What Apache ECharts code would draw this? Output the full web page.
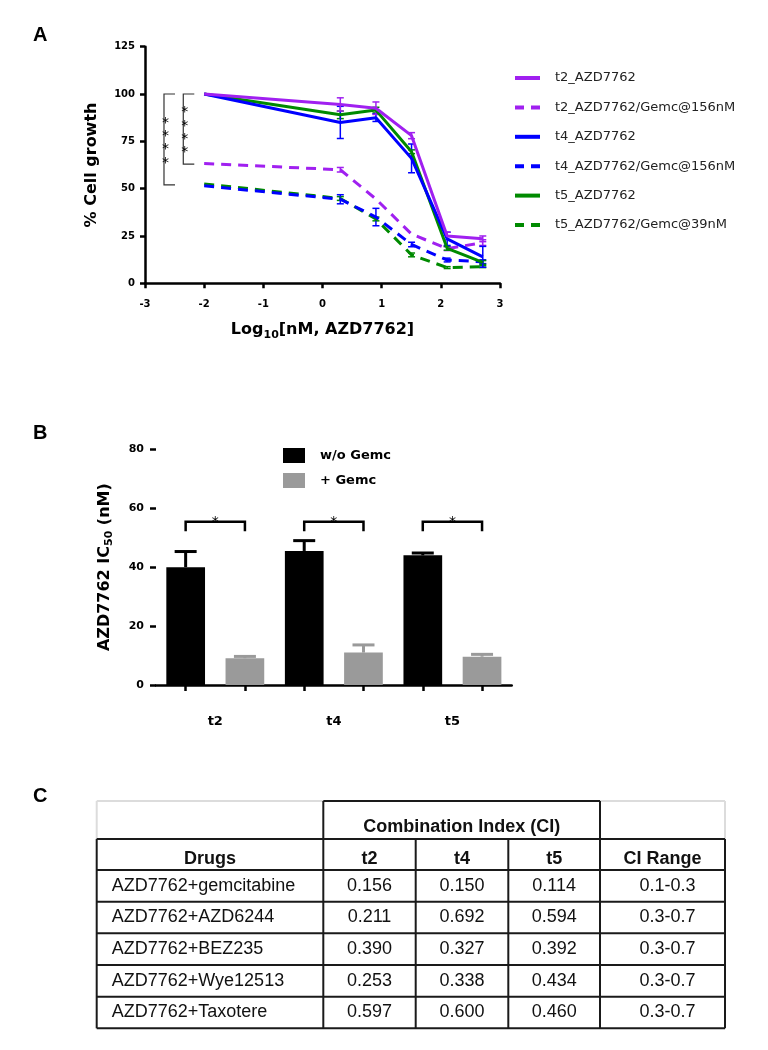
<!DOCTYPE html>
<html>
<head>
<meta charset="utf-8">
<title>AZD7762 figure</title>
<script src="https://cdn.jsdelivr.net/npm/echarts@6.0.0/dist/echarts.min.js"></script>
<style>
  html, body { margin: 0; padding: 0; background: #fff; }
  #fig { width: 768px; height: 1050px; }
</style>
</head>
<body>
<div id="fig"></div>
<script>
// ---------- panel A : growth vs log10 dose ----------
var logDose = [-2, 0.301, 0.903, 1.505, 2.107, 2.709];
var xTicksA = [-3, -2, -1, 0, 1, 2, 3];
var yTicksA = [0, 25, 50, 75, 100, 125];

var t2Alone = [100, 94.5, 92.5, 78, 25, 23.5];
var t2AloneErr = [0, 3.5, 3.3, 1.6, 2, 1.5];
var t2Gemc = [63.3, 60, 44.5, 26, 18.3, 21.5];
var t2GemcErr = [0, 1.2, 0, 0, 1, 1.5];
var t4Alone = [100, 85, 87.5, 66, 23.5, 14];
var t4AloneErr = [0, 8.5, 2, 7.6, 3.5, 5.5];
var t4Gemc = [51.5, 44.4, 35, 20.5, 12.3, 11.4];
var t4GemcErr = [0, 2.4, 4.6, 1.2, 1, 1];
var t5Alone = [100, 89, 91.5, 69.5, 18.5, 11];
var t5AloneErr = [0, 2, 1.5, 1, 1, 1];
var t5Gemc = [52.5, 44.8, 34, 15, 8.3, 8.8];
var t5GemcErr = [0, 1, 1, 1, 0.5, 0.5];

// significance brackets in A: [x, x end, top, bottom, stars]
var sigA = [
  [-2.679, -2.493, 100, 52, 4],
  [-2.353, -2.167, 100, 63, 4]
];

// ---------- panel B : IC50 bars ----------
var cellLines = ['t2', 't4', 't5'];
var ic50Alone = [40, 45.5, 44];
var ic50AloneErr = [5.3, 3.5, 0.8];
var ic50Gemc = [9.1, 11, 9.6];
var ic50GemcErr = [0.6, 2.6, 0.8];
var yTicksB = [0, 20, 40, 60, 80];
// bracket height / foot for each cell line
var sigB = [[0, 55.4, 52.2], [1, 55.4, 52.2], [2, 55.4, 52.2]];

// ---------- panel C : combination index table ----------
var drugs = ['AZD7762+gemcitabine', 'AZD7762+AZD6244', 'AZD7762+BEZ235', 'AZD7762+Wye12513', 'AZD7762+Taxotere'];
var ciT2 = ['0.156', '0.211', '0.390', '0.253', '0.597'];
var ciT4 = ['0.150', '0.692', '0.327', '0.338', '0.600'];
var ciT5 = ['0.114', '0.594', '0.392', '0.434', '0.460'];
var ciRange = ['0.1-0.3', '0.3-0.7', '0.3-0.7', '0.3-0.7', '0.3-0.7'];
var tableHead = ['Drugs', 't2', 't4', 't5', 'CI Range'];
var groupHead = 'Combination Index (CI)';

var PURPLE = '#a020f0', BLUE = '#0000ff', GREEN = '#008a00';
var AXFONT = 'DejaVu Sans';
var DASH = [10, 7];

function lineSeries(name, data, color, dashed) {
  return {
    name: name,
    type: 'line',
    xAxisIndex: 0, yAxisIndex: 0,
    data: logDose.map(function (x, i) { return [x, data[i]]; }),
    showSymbol: false, symbol: 'none',
    lineStyle: { color: color, width: 3, type: dashed ? DASH : 'solid' },
    itemStyle: { color: color }
  };
}

// vertical error bars with caps (panel A)
function errSeriesA(data, errs, color) {
  return {
    type: 'custom',
    xAxisIndex: 0, yAxisIndex: 0,
    encode: { x: 0, y: 1 },
    data: logDose.map(function (x, i) { return [x, data[i], errs[i]]; }),
    renderItem: function (params, api) {
      var x = api.value(0), y = api.value(1), e = api.value(2);
      if (!e) return { type: 'group', children: [] };
      var hi = api.coord([x, y + e]), lo = api.coord([x, y - e]);
      var st = { stroke: color, lineWidth: 1.5 };
      return {
        type: 'group',
        children: [
          { type: 'line', shape: { x1: hi[0], y1: hi[1], x2: lo[0], y2: lo[1] }, style: st },
          { type: 'line', shape: { x1: hi[0] - 3.5, y1: hi[1], x2: hi[0] + 3.5, y2: hi[1] }, style: st },
          { type: 'line', shape: { x1: lo[0] - 3.5, y1: lo[1], x2: lo[0] + 3.5, y2: lo[1] }, style: st }
        ]
      };
    },
    z: 3
  };
}

// upward error bars on grouped bars (panel B); side -1 = left bar, +1 = right bar
function errSeriesB(vals, errs, side, color) {
  return {
    type: 'custom',
    xAxisIndex: 1, yAxisIndex: 1,
    encode: { x: 0, y: 1 },
    data: vals.map(function (v, i) { return [i, v, errs[i]]; }),
    renderItem: function (params, api) {
      var base = api.coord([api.value(0), api.value(1)]);
      var top = api.coord([api.value(0), api.value(1) + api.value(2)]);
      var band = api.size([1, 0])[0];
      var cx = base[0] + side * band / 4;
      var st = { stroke: color, lineWidth: 3 };
      return {
        type: 'group',
        children: [
          { type: 'line', shape: { x1: cx, y1: base[1], x2: cx, y2: top[1] }, style: st },
          { type: 'line', shape: { x1: cx - 11, y1: top[1], x2: cx + 11, y2: top[1] }, style: st }
        ]
      };
    },
    z: 3
  };
}

var fig = echarts.init(document.getElementById('fig'));

// ---- table C built from the arrays ----
function buildTable() {
  var colX = [96.7, 323.3, 415.7, 508.3, 600, 725];
  var rowY = [801, 839, 870, 901.7, 933.3, 965, 996.7, 1028.3];
  var els = [];
  var black = { stroke: '#1a1a1a', lineWidth: 2 };
  var light = { stroke: '#dcdcdc', lineWidth: 2 };
  function seg(x1, y1, x2, y2, st) {
    els.push({ type: 'line', shape: { x1: x1, y1: y1, x2: x2, y2: y2 }, style: st, silent: true });
  }
  function txt(s, x, y, align, bold) {
    els.push({
      type: 'text', x: x, y: y, silent: true,
      style: {
        text: s, align: align, verticalAlign: 'middle', fill: '#111',
        fontFamily: 'Liberation Sans', fontSize: 18, fontWeight: bold ? 'bold' : 'normal'
      }
    });
  }
  // light border on the empty header cells
  seg(colX[0], rowY[0], colX[1], rowY[0], light);
  seg(colX[0], rowY[0], colX[0], rowY[1], light);
  seg(colX[4], rowY[0], colX[5], rowY[0], light);
  seg(colX[5], rowY[0], colX[5], rowY[1], light);
  // combination index box
  seg(colX[1], rowY[0], colX[4], rowY[0], black);
  seg(colX[1], rowY[0], colX[1], rowY[1], black);
  seg(colX[4], rowY[0], colX[4], rowY[1], black);
  for (var r = 1; r < rowY.length; r++) seg(colX[0], rowY[r], colX[5], rowY[r], black);
  for (var c = 0; c < colX.length; c++) seg(colX[c], rowY[1], colX[c], rowY[rowY.length - 1], black);

  txt(groupHead, (colX[1] + colX[4]) / 2, 827, 'center', true);
  tableHead.forEach(function (h, i) {
    txt(h, (colX[i] + colX[i + 1]) / 2, 859, 'center', true);
  });
  drugs.forEach(function (d, i) {
    var cy = (rowY[i + 2] + rowY[i + 3]) / 2;
    txt(d, colX[0] + 15, cy, 'left', false);
    txt(ciT2[i], (colX[1] + colX[2]) / 2, cy, 'center', false);
    txt(ciT4[i], (colX[2] + colX[3]) / 2, cy, 'center', false);
    txt(ciT5[i], (colX[3] + colX[4]) / 2, cy, 'center', false);
    txt(ciRange[i], (colX[4] + colX[5]) / 2 + 5, cy, 'center', false);
  });
  return els;
}

function panelLetter(s, x, y) {
  return {
    type: 'text', x: x, y: y,
    style: { text: s, fontFamily: 'Liberation Sans', fontWeight: 'bold', fontSize: 20, fill: '#000' }
  };
}

var axisLineSt = { onZero: false, lineStyle: { color: '#000', width: 2.5 } };
var tickSt = { show: true, length: 5, inside: false, lineStyle: { color: '#000', width: 2.5 } };

var legendNamesA = ['t2_AZD7762', 't2_AZD7762/Gemc@156nM', 't4_AZD7762', 't4_AZD7762/Gemc@156nM', 't5_AZD7762', 't5_AZD7762/Gemc@39nM'];

var option = {
  animation: false,
  backgroundColor: '#fff',
  grid: [
    { left: 145, top: 46.7, width: 355, height: 236.6 },
    { left: 156, top: 449.3, width: 355.7, height: 235.7 }
  ],
  legend: [
    {
      data: legendNamesA.map(function (n) {
        return { name: n, lineStyle: { type: n.indexOf('Gemc') > 0 ? [9, 7] : 'solid', width: 4 } };
      }),
      orient: 'vertical', left: 513, top: 71.5, padding: 0,
      itemWidth: 25, itemHeight: 10, itemGap: 16.4,
      itemStyle: { opacity: 0 },
      textStyle: { fontFamily: AXFONT, fontSize: 13, color: '#222', padding: [0, 0, 0, 10] }
    },
    {
      data: ['w/o Gemc', '+ Gemc'],
      orient: 'vertical', left: 283, top: 448, padding: 0,
      itemWidth: 22, itemHeight: 15, itemGap: 10, icon: 'rect',
      textStyle: { fontFamily: AXFONT, fontSize: 13, fontWeight: 'bold', color: '#000', padding: [0, 0, 0, 10] }
    }
  ],
  xAxis: [
    {
      gridIndex: 0, type: 'value',
      min: xTicksA[0], max: xTicksA[xTicksA.length - 1], interval: 1,
      axisLine: axisLineSt, axisTick: tickSt, splitLine: { show: false },
      axisLabel: { fontFamily: AXFONT, fontWeight: 'bold', fontSize: 10, color: '#000', margin: 16 },
      name: 'Log{s|10}[nM, AZD7762]', nameLocation: 'middle', nameGap: 36,
      nameTextStyle: {
        fontFamily: AXFONT, fontWeight: 'bold', fontSize: 16, color: '#000',
        rich: { s: { fontFamily: AXFONT, fontWeight: 'bold', fontSize: 11, padding: [10, 0, 0, 0] } }
      }
    },
    {
      gridIndex: 1, type: 'category', data: cellLines, position: 'bottom',
      axisLine: axisLineSt, axisTick: { show: false },
      axisLabel: { fontFamily: AXFONT, fontWeight: 'bold', fontSize: 13, color: '#000', margin: 30 }
    },
    {
      // tick-only axis: one tick under every bar
      gridIndex: 1, type: 'category', position: 'bottom',
      data: ['', '', '', '', '', ''],
      axisLine: { show: false, onZero: false },
      axisTick: { show: true, alignWithLabel: true, length: 6, lineStyle: { color: '#000', width: 2.5 } },
      axisLabel: { show: false }
    }
  ],
  yAxis: [
    {
      gridIndex: 0, type: 'value',
      min: yTicksA[0], max: yTicksA[yTicksA.length - 1], interval: 25,
      axisLine: axisLineSt, axisTick: tickSt, splitLine: { show: false },
      axisLabel: { fontFamily: AXFONT, fontWeight: 'bold', fontSize: 10, color: '#000', margin: 10 },
      name: '% Cell growth', nameLocation: 'middle', nameRotate: 90, nameGap: 45,
      nameTextStyle: { fontFamily: AXFONT, fontWeight: 'bold', fontSize: 16, color: '#000' }
    },
    {
      gridIndex: 1, type: 'value',
      min: yTicksB[0], max: yTicksB[yTicksB.length - 1], interval: 20,
      axisLine: axisLineSt, axisTick: { show: true, length: 6, lineStyle: { color: '#000', width: 2.5 } },
      splitLine: { show: false },
      axisLabel: { fontFamily: AXFONT, fontWeight: 'bold', fontSize: 11, color: '#000', margin: 12 },
      name: 'AZD7762 IC{s|50} (nM)', nameLocation: 'middle', nameRotate: 90, nameGap: 41,
      nameTextStyle: {
        fontFamily: AXFONT, fontWeight: 'bold', fontSize: 16, color: '#000',
        rich: { s: { fontFamily: AXFONT, fontWeight: 'bold', fontSize: 11, padding: [9, 0, 0, 0] } }
      }
    }
  ],
  series: [
    lineSeries('t5_AZD7762/Gemc@39nM', t5Gemc, GREEN, true),
    lineSeries('t4_AZD7762/Gemc@156nM', t4Gemc, BLUE, true),
    lineSeries('t2_AZD7762/Gemc@156nM', t2Gemc, PURPLE, true),
    lineSeries('t5_AZD7762', t5Alone, GREEN, false),
    lineSeries('t4_AZD7762', t4Alone, BLUE, false),
    lineSeries('t2_AZD7762', t2Alone, PURPLE, false),
    errSeriesA(t5Gemc, t5GemcErr, GREEN),
    errSeriesA(t4Gemc, t4GemcErr, BLUE),
    errSeriesA(t2Gemc, t2GemcErr, PURPLE),
    errSeriesA(t5Alone, t5AloneErr, GREEN),
    errSeriesA(t4Alone, t4AloneErr, BLUE),
    errSeriesA(t2Alone, t2AloneErr, PURPLE),
    {
      // brackets + stars in A
      type: 'custom', xAxisIndex: 0, yAxisIndex: 0,
      encode: { x: 0, y: 2 },
      data: sigA,
      renderItem: function (params, api) {
        var a = api.coord([api.value(0), api.value(2)]);
        var b = api.coord([api.value(1), api.value(3)]);
        var kids = [{
          type: 'polyline',
          shape: { points: [[b[0], a[1]], [a[0], a[1]], [a[0], b[1]], [b[0], b[1]]] },
          style: { stroke: '#333', lineWidth: 1.2, fill: null }
        }];
        var n = api.value(4), mid = (a[1] + b[1]) / 2;
        for (var k = 0; k < n; k++) {
          kids.push({
            type: 'text', x: a[0] + 1.5, y: mid + (k - (n - 1) / 2) * 13.3 + 3.5,
            style: { text: '*', align: 'center', verticalAlign: 'middle', fontFamily: AXFONT, fontSize: 14, fill: '#000' }
          });
        }
        return { type: 'group', children: kids };
      }
    },
    {
      name: 'w/o Gemc', type: 'bar', xAxisIndex: 1, yAxisIndex: 1,
      data: ic50Alone, barWidth: 38.7, barGap: '53%',
      itemStyle: { color: '#000' }
    },
    {
      name: '+ Gemc', type: 'bar', xAxisIndex: 1, yAxisIndex: 1,
      data: ic50Gemc, barWidth: 38.7, barGap: '53%',
      itemStyle: { color: '#9a9a9a' }
    },
    errSeriesB(ic50Alone, ic50AloneErr, -1, '#000'),
    errSeriesB(ic50Gemc, ic50GemcErr, 1, '#9a9a9a'),
    {
      // brackets in B
      type: 'custom', xAxisIndex: 1, yAxisIndex: 1,
      encode: { x: 0, y: 1 },
      data: sigB,
      renderItem: function (params, api) {
        var top = api.coord([api.value(0), api.value(1)]);
        var foot = api.coord([api.value(0), api.value(2)]);
        var q = api.size([1, 0])[0] / 4;
        var l = top[0] - q, r = top[0] + q;
        return {
          type: 'group',
          children: [
            {
              type: 'polyline',
              shape: { points: [[l, foot[1]], [l, top[1]], [r, top[1]], [r, foot[1]]] },
              style: { stroke: '#000', lineWidth: 2.5, fill: null }
            },
            {
              type: 'text', x: top[0], y: top[1] + 1,
              style: { text: '*', align: 'center', verticalAlign: 'middle', fontFamily: AXFONT, fontSize: 14, fill: '#000' }
            }
          ]
        };
      }
    }
  ],
  graphic: [panelLetter('A', 33, 25), panelLetter('B', 33, 423), panelLetter('C', 33, 786)].concat(buildTable())
};

fig.setOption(option);
</script>
</body>
</html>
